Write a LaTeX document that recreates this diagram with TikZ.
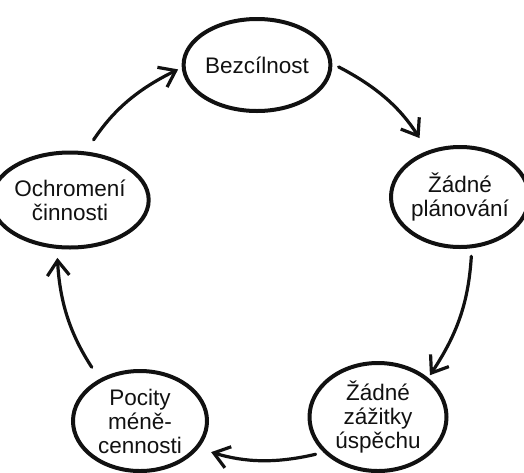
\documentclass[tikz,border=0pt]{standalone}
\usepackage{fontspec}
\setmainfont{Liberation Sans}
\usetikzlibrary{shapes.geometric,arrows.meta}
\definecolor{inkBlack}{HTML}{111111}
\tikzset{
  bubble/.style={ellipse, draw=inkBlack, line width=4pt, align=center, inner sep=0pt,
    text=inkBlack, font=\fontsize{22.5}{24}\selectfont},
  cycarrow/.style={draw=inkBlack, line width=3.2pt, line cap=round, bend left=15,
    -{Straight Barb[length=15pt,width=22pt]}}
}
\begin{document}
\begin{tikzpicture}[x=1pt,y=-1pt]
  \useasboundingbox (0,0) rectangle (524,472);
  % the five states of the cycle
  \node[bubble, minimum width=137pt, minimum height=92pt] (bez) at (257,65) {Bezcílnost};
  \node[bubble, minimum width=128pt, minimum height=100pt] (zpl) at (460,197) {Žádné\\plánování};
  \node[bubble, minimum width=137pt, minimum height=108pt] (zzu) at (378,417) {Žádné\\zážitky\\úspěchu};
  \node[bubble, minimum width=134pt, minimum height=100pt] (poc) at (140,421) {Pocity\\méně-\\cennosti};
  \node[bubble, minimum width=125pt, minimum height=95pt] (och) at (70,200) {Ochromení\\činnosti};
  % arrows round the cycle
  \draw[cycarrow, shorten <=7pt, shorten >=15pt] (bez.1) to (zpl.125);
  \draw[cycarrow, shorten <=8pt, shorten >=3pt] (zpl.-77) to (zzu.38);
  \draw[cycarrow, shorten <=8pt, shorten >=13pt] (zzu.213) to (poc.335);
  \draw[cycarrow, shorten <=14pt, shorten >=9pt] (poc.134) to (och.255);
  \draw[cycarrow, shorten <=14pt, shorten >=4pt] (och.72) to (bez.182);
\end{tikzpicture}
\end{document}
